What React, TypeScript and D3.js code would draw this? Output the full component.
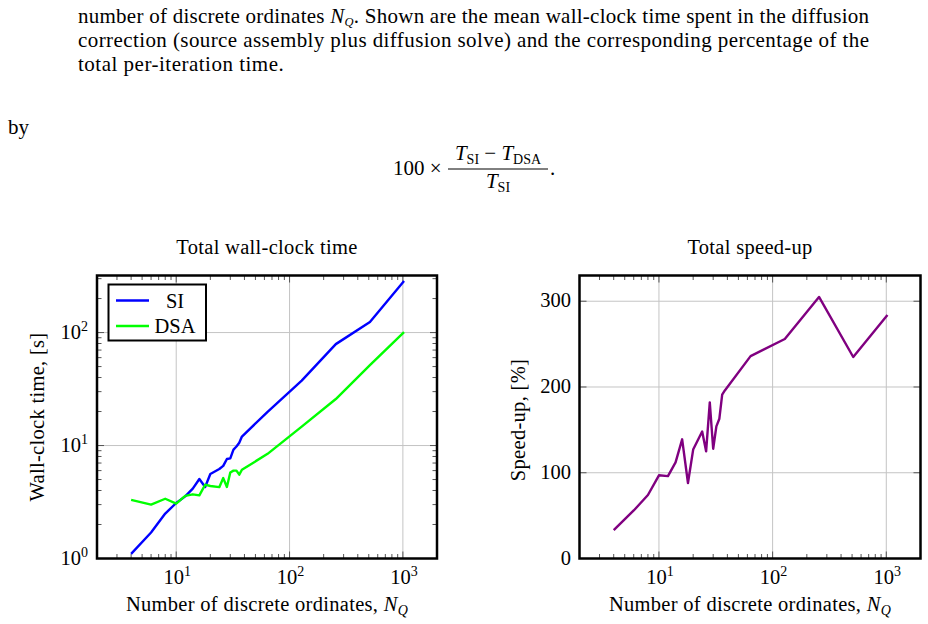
import React from "react";
import * as d3 from "d3";

// number of discrete ordinates per run
const nq = [4, 6, 8, 10, 12, 14, 16, 18, 20, 24, 26, 28, 30, 32, 34, 36, 38, 64, 128, 256, 512, 1024];
// total wall-clock time [s]
const timeSI = [1.1, 1.7, 2.5, 3.1, 3.55, 4.15, 5.05, 4.3, 5.6, 6.2, 6.6, 7.6, 7.7, 9.2, 9.8, 10.6, 12.0, 19.9, 37.5, 79, 124, 286];
const timeDSA = [3.3, 3.0, 3.38, 3.06, 3.58, 3.7, 3.62, 4.5, 4.38, 4.28, 5.15, 4.3, 5.78, 6.0, 6.0, 5.52, 6.1, 8.44, 14.7, 25.8, 51.5, 101];
// total speed-up [%]
const speedup = [33, 56, 74, 97, 96, 112, 139, 88, 127, 148, 125, 182, 128, 154, 163, 191, 196, 236, 256, 305, 235, 284];

const seriesNames = ["SI", "DSA"];
const seriesColors = ["#0000ff", "#00ff00"];
const speedupColor = "#800080";
const speedupTicks = [0, 100, 200, 300];
const timeTicks = [1, 10, 100];
const nqTicks = [10, 100, 1000];

const FONT = "'Liberation Serif', 'Times New Roman', serif";
const fs = 20.5; // figure text
const fsP = 21; // running text
const sub = 14;
const ls = 0.3;

const frameL = { x0: 97, x1: 437, y0: 275.5, y1: 558.5 };
const frameR = { x0: 579.5, x1: 920.5, y0: 275.5, y1: 558.5 };

const isPow10 = (v: number) => Math.abs(Math.log10(v) - Math.round(Math.log10(v))) < 1e-9;

const Pow10 = ({ x, y, v, anchor }: { x: number; y: number; v: number; anchor: string }) => (
  <text x={x} y={y} textAnchor={anchor} fontSize={fs}>
    10<tspan dy={-8} fontSize={sub}>{Math.round(Math.log10(v))}</tspan>
  </text>
);

// ticks on all four sides plus major grid
function Frame({ f, xs, ys, yLog, yTicks }: any) {
  const xt = xs.ticks();
  const yt = yLog ? ys.ticks() : yTicks;
  const major = 7;
  const minor = 4.5;
  const xMaj = xt.filter(isPow10);
  const yMaj = yLog ? yt.filter(isPow10) : yTicks;
  return (
    <g>
      {xMaj.map((v: number) => (
        <line key={"gx" + v} x1={xs(v)} x2={xs(v)} y1={f.y0} y2={f.y1} stroke="#c4c4c4" strokeWidth={1} />
      ))}
      {yMaj.map((v: number) => (
        <line key={"gy" + v} x1={f.x0} x2={f.x1} y1={ys(v)} y2={ys(v)} stroke="#c4c4c4" strokeWidth={1} />
      ))}
      {xt.map((v: number) => {
        const l = isPow10(v) ? major : minor;
        return (
          <g key={"tx" + v} stroke="#555" strokeWidth={1}>
            <line x1={xs(v)} x2={xs(v)} y1={f.y1} y2={f.y1 - l} />
            <line x1={xs(v)} x2={xs(v)} y1={f.y0} y2={f.y0 + l} />
          </g>
        );
      })}
      {yt.map((v: number) => {
        const l = !yLog || isPow10(v) ? major : minor;
        return (
          <g key={"ty" + v} stroke="#555" strokeWidth={1}>
            <line x1={f.x0} x2={f.x0 + l} y1={ys(v)} y2={ys(v)} />
            <line x1={f.x1} x2={f.x1 - l} y1={ys(v)} y2={ys(v)} />
          </g>
        );
      })}
    </g>
  );
}

const XLabel = ({ cx }: { cx: number }) => (
  <text x={cx} y={611} textAnchor="middle" fontSize={fs} letterSpacing={ls}>
    Number of discrete ordinates, <tspan fontStyle="italic">N</tspan>
    <tspan fontStyle="italic" fontSize={sub} dy={4}>Q</tspan>
  </text>
);

export default function App() {
  const xL = d3.scaleLog().domain([2, 2000]).range([frameL.x0, frameL.x1]);
  const yL = d3.scaleLog().domain([1, 320]).range([frameL.y1, frameL.y0]);
  const xR = d3.scaleLog().domain([2, 2000]).range([frameR.x0, frameR.x1]);
  const yR = d3.scaleLinear().domain([0, 330]).range([frameR.y1, frameR.y0]);

  const times = [timeSI, timeDSA];
  const lineL = d3
    .line<number>()
    .x((_, i) => xL(nq[i]))
    .y((d) => yL(d));
  const lineR = d3
    .line<number>()
    .x((_, i) => xR(nq[i]))
    .y((d) => yR(d));

  return (
    <div style={{ position: "absolute", left: 0, top: 0 }}>
      <svg width={928} height={624} fontFamily={FONT} style={{ display: "block", background: "#fff" }}>
        <rect width={928} height={624} fill="#fff" />

        {/* surrounding paragraph */}
        <text x={78} y={23} fontSize={fsP} textLength={791} lengthAdjust="spacing">
          number of discrete ordinates <tspan fontStyle="italic">N</tspan>
          <tspan fontStyle="italic" fontSize={12.5} dy={3}>Q</tspan>
          <tspan dy={-3}>. Shown are the mean wall-clock time spent in the diffusion</tspan>
        </text>
        <text x={78} y={47} fontSize={fsP} textLength={791} lengthAdjust="spacing">
          correction (source assembly plus diffusion solve) and the corresponding percentage of the
        </text>
        <text x={78} y={71} fontSize={fsP} letterSpacing={0.5}>
          total per-iteration time.
        </text>
        <text x={8} y={134} fontSize={fsP}>by</text>

        {/* speed-up formula */}
        <text x={393} y={175} fontSize={fsP}>100 ×</text>
        <text x={498} y={160} textAnchor="middle" fontSize={fsP}>
          <tspan fontStyle="italic">T</tspan>
          <tspan fontSize={sub} dy={4}>SI</tspan>
          <tspan dy={-4}> − </tspan>
          <tspan fontStyle="italic">T</tspan>
          <tspan fontSize={sub} dy={4}>DSA</tspan>
        </text>
        <line x1={448} x2={548} y1={169} y2={169} stroke="#000" strokeWidth={1} />
        <text x={498} y={188} textAnchor="middle" fontSize={fsP}>
          <tspan fontStyle="italic">T</tspan>
          <tspan fontSize={sub} dy={4}>SI</tspan>
        </text>
        <text x={550} y={175} fontSize={fsP}>.</text>

        {/* left: total wall-clock time */}
        <text x={267} y={254} textAnchor="middle" fontSize={fs} letterSpacing={ls}>
          Total wall-clock time
        </text>
        <Frame f={frameL} xs={xL} ys={yL} yLog={true} />
        {times.map((t, k) => (
          <path key={seriesNames[k]} d={lineL(t) || ""} fill="none" stroke={seriesColors[k]} strokeWidth={2.4} strokeLinejoin="round" />
        ))}
        <rect x={frameL.x0} y={frameL.y0} width={frameL.x1 - frameL.x0} height={frameL.y1 - frameL.y0} fill="none" stroke="#000" strokeWidth={2.5} />
        {timeTicks.map((v) => (
          <Pow10 key={"yl" + v} x={88} y={yL(v) + 6} v={v} anchor="end" />
        ))}
        {nqTicks.map((v) => (
          <Pow10 key={"xl" + v} x={xL(v) + 1} y={584} v={v} anchor="middle" />
        ))}
        <XLabel cx={267} />
        <text transform="translate(44,417) rotate(-90)" textAnchor="middle" fontSize={fs} letterSpacing={ls}>
          Wall-clock time, [s]
        </text>

        {/* legend */}
        <rect x={108.5} y={284.5} width={97.5} height={56} fill="#fff" stroke="#000" strokeWidth={2} />
        {seriesNames.map((name, k) => (
          <g key={name}>
            <line x1={116} x2={149} y1={300.5 + k * 25.5} y2={300.5 + k * 25.5} stroke={seriesColors[k]} strokeWidth={2.4} />
            <text x={175} y={307.5 + k * 25.5} textAnchor="middle" fontSize={fs}>{name}</text>
          </g>
        ))}

        {/* right: total speed-up */}
        <text x={750} y={254} textAnchor="middle" fontSize={fs} letterSpacing={ls}>
          Total speed-up
        </text>
        <Frame f={frameR} xs={xR} ys={yR} yLog={false} yTicks={speedupTicks} />
        <path d={lineR(speedup) || ""} fill="none" stroke={speedupColor} strokeWidth={2.4} strokeLinejoin="round" />
        <rect x={frameR.x0} y={frameR.y0} width={frameR.x1 - frameR.x0} height={frameR.y1 - frameR.y0} fill="none" stroke="#000" strokeWidth={2.5} />
        {speedupTicks.map((v) => (
          <text key={"yr" + v} x={571} y={yR(v) + 6} textAnchor="end" fontSize={fs}>{v}</text>
        ))}
        {nqTicks.map((v) => (
          <Pow10 key={"xr" + v} x={xR(v) + 1} y={584} v={v} anchor="middle" />
        ))}
        <XLabel cx={750} />
        <text transform="translate(525,420) rotate(-90)" textAnchor="middle" fontSize={fs} letterSpacing={ls}>
          Speed-up, [%]
        </text>
      </svg>
    </div>
  );
}
